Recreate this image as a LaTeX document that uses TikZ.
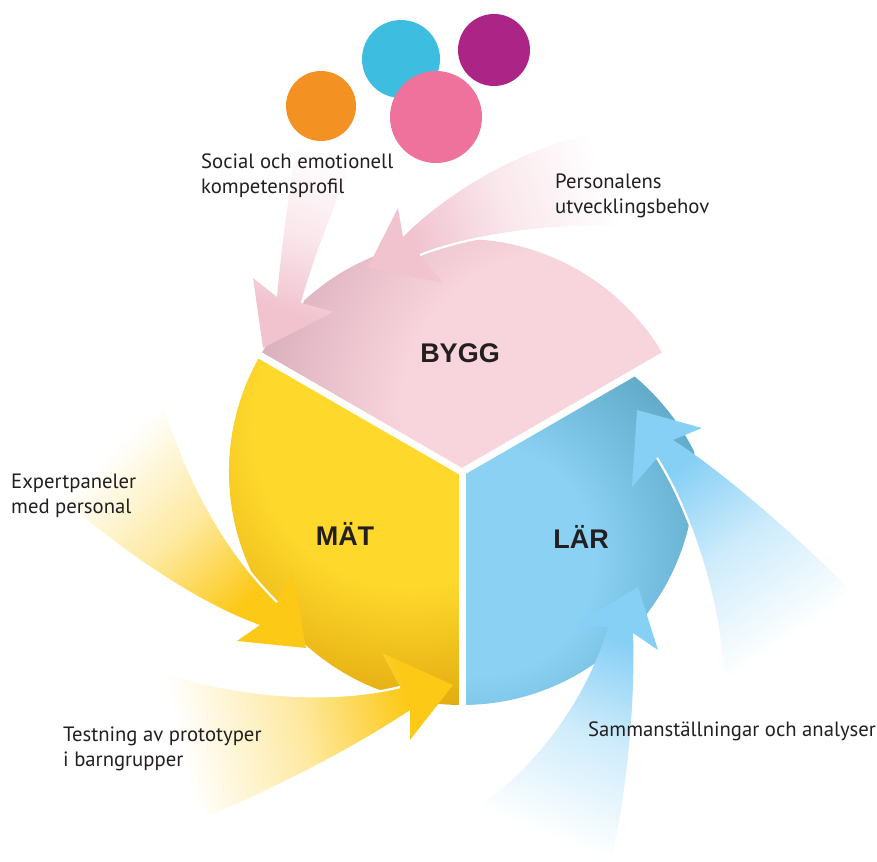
\documentclass[tikz,border=0pt]{standalone}
\usepackage{fontspec}
\setmainfont{PT Sans}
\newfontfamily\arialfont{Liberation Sans}
\definecolor{pinkL}{HTML}{F8D4DC}
\definecolor{pinkD}{HTML}{D6A9B8}
\definecolor{yelL}{HTML}{FED92C}
\definecolor{yelD}{HTML}{DFA40C}
\definecolor{bluL}{HTML}{8AD1F4}
\definecolor{bluD}{HTML}{62ABCA}
\definecolor{pinkH}{HTML}{F1C3CF}
\definecolor{yelH}{HTML}{FCC916}
\definecolor{bluH}{HTML}{86CFF5}
\colorlet{pinkM}{pinkH!40!white}
\colorlet{yelM}{yelH!40!white}
\colorlet{bluM}{bluH!40!white}
\definecolor{corange}{HTML}{F39222}
\definecolor{ccyan}{HTML}{3DBDE0}
\definecolor{cpurple}{HTML}{AC2586}
\definecolor{cpink}{HTML}{EE729C}
\definecolor{txt}{HTML}{231F20}
\pgfdeclareradialshading{pinkrad}{\pgfpoint{0bp}{0bp}}{color(0bp)=(pinkL); color(12bp)=(pinkL); color(25bp)=(pinkD); color(50bp)=(pinkD)}
\pgfdeclareradialshading{yelrad}{\pgfpoint{0bp}{0bp}}{color(0bp)=(yelL); color(13bp)=(yelL); color(25bp)=(yelD); color(50bp)=(yelD)}
\pgfdeclareradialshading{blurad}{\pgfpoint{0bp}{0bp}}{color(0bp)=(bluL); color(12bp)=(bluL); color(25bp)=(bluD); color(50bp)=(bluD)}
\pgfdeclareverticalshading{pinkfade}{100bp}{color(0bp)=(pinkH); color(30bp)=(pinkH); color(50bp)=(pinkM); color(72bp)=(white); color(100bp)=(white)}
\pgfdeclareverticalshading{yelfade}{100bp}{color(0bp)=(yelH); color(30bp)=(yelH); color(50bp)=(yelM); color(72bp)=(white); color(100bp)=(white)}
\pgfdeclareverticalshading{blufade}{100bp}{color(0bp)=(bluH); color(30bp)=(bluH); color(50bp)=(bluM); color(72bp)=(white); color(100bp)=(white)}
\newcommand\lblines[2]{\vtop{\baselineskip=25pt\lineskiplimit=-20pt\hbox{#1}\hbox{#2}}}
\begin{document}
\begin{tikzpicture}[x=1pt,y=-1pt,
  lab/.style={font=\arialfont\bfseries\fontsize{27}{31}\selectfont, text=txt, inner sep=0pt, anchor=base},
  note/.style={font=\fontsize{20.7}{25}\selectfont, text=txt, inner sep=0pt, anchor=base west},
  gapline/.style={white, line width=2.2}]
\useasboundingbox (0,0) rectangle (877,861);
\coordinate (C) at (462,472);
% sectors
\begin{scope}
  \clip (C) -- ++(210:233) arc[start angle=210, end angle=330, radius=233] -- cycle;
  \shade[shading=pinkrad] (560,410) circle (330);
\end{scope}
\begin{scope}
  \clip (C) -- ++(210:233) arc[start angle=210, end angle=90, radius=233] -- cycle;
  \shade[shading=yelrad] (410,430) circle (300);
\end{scope}
\begin{scope}
  \clip (C) -- ++(90:233) arc[start angle=90, end angle=-30, radius=233] -- cycle;
  \shade[shading=blurad] (480,560) circle (240);
\end{scope}
\draw[white, line width=7] (C) -- ++(210:240);
\draw[white, line width=7] (C) -- ++(330:240);
\draw[white, line width=7] (C) -- ++(90:240);
% arrow: Social (pink)
\coordinate (sTL) at (297,138); \coordinate (sTR) at (367,128);
\coordinate (sNL) at (277,297); \coordinate (sNR) at (302,303);
\coordinate (sBL) at (253,278); \coordinate (sBR) at (333,312);
\coordinate (sTip) at (263,348);
\shade[shading=pinkfade, shading angle=-17.9] (sTR) .. controls (345,185) and (318,245) .. (sNR) -- (sBR) -- (sTip) -- (sBL) -- (sNL) .. controls (282,240) and (290,190) .. (sTL) -- cycle;
\draw[gapline] (sNR) .. controls (318,245) and (345,185) .. (sTR);
% arrow: Personalens (pink)
\coordinate (pTU) at (593,133); \coordinate (pTL) at (640,228);
\coordinate (pN1) at (403,237); \coordinate (pN2) at (420,255);
\coordinate (pB1) at (398,208); \coordinate (pB2) at (443,283);
\coordinate (pTip) at (368,267);
\shade[shading=pinkfade, shading angle=-70.6] (pTU) .. controls (520,150) and (450,190) .. (pN1) -- (pB1) -- (pTip) -- (pB2) -- (pN2) .. controls (470,235) and (560,222) .. (pTL) .. controls (640,180) .. (pTU) -- cycle;
\draw[gapline] (pN2) .. controls (470,235) and (560,222) .. (pTL);
% arrow: Expertpaneler (yellow)
\coordinate (eT1) at (163,400); \coordinate (eT2) at (70,505);
\coordinate (eNI) at (277,602); \coordinate (eNO) at (260,625);
\coordinate (eBU) at (293,572); \coordinate (eBL) at (237,641);
\coordinate (eTip) at (306,648);
\shade[shading=yelfade, shading angle=43.9] (eT1) .. controls (190,490) and (230,555) .. (eNI) -- (eBU) -- (eTip) -- (eBL) -- (eNO) .. controls (190,600) and (110,540) .. (eT2) .. controls (90,440) .. (eT1) -- cycle;
\draw[gapline] (eT1) .. controls (190,490) and (230,555) .. (eNI);
% arrow: Testning (yellow)
\coordinate (tT1) at (163,672); \coordinate (tT2) at (210,815);
\coordinate (tNU) at (400,687); \coordinate (tNL) at (410,710);
\coordinate (tBU) at (382,653); \coordinate (tBL) at (410,740);
\coordinate (tTip) at (453,685);
\shade[shading=yelfade, shading angle=102.4] (tT1) .. controls (250,700) and (340,702) .. (tNU) -- (tBU) -- (tTip) -- (tBL) -- (tNL) .. controls (350,750) and (270,790) .. (tT2) .. controls (150,750) .. (tT1) -- cycle;
\draw[gapline] (tT1) .. controls (250,700) and (340,702) .. (tNU);
% arrow: upper blue
\coordinate (uTL) at (723,677); \coordinate (uTR) at (847,587);
\coordinate (uNL) at (657,458); \coordinate (uNR) at (673,440);
\coordinate (uBL) at (632,487); \coordinate (uBR) at (702,428);
\coordinate (uTip) at (637,410);
\shade[shading=blufade, shading angle=-146.4] (uTR) .. controls (790,530) and (720,470) .. (uNR) -- (uBR) -- (uTip) -- (uBL) -- (uNL) .. controls (690,510) and (720,600) .. (uTL) .. controls (800,660) .. (uTR) -- cycle;
\draw[gapline] (uNL) .. controls (690,510) and (720,600) .. (uTL);
% arrow: lower blue
\coordinate (lTL) at (467,813); \coordinate (lTR) at (613,853);
\coordinate (lNL) at (608,627); \coordinate (lNR) at (633,633);
\coordinate (lBL) at (572,627); \coordinate (lBR) at (658,650);
\coordinate (lTip) at (638,587);
\shade[shading=blufade, shading angle=158.3] (lTR) .. controls (630,770) and (635,690) .. (lNR) -- (lBR) -- (lTip) -- (lBL) -- (lNL) .. controls (590,690) and (540,770) .. (lTL) .. controls (530,860) .. (lTR) -- cycle;
% coloured dots
\fill[corange] (321,106) circle (35);
\fill[ccyan] (401,59) circle (39);
\fill[cpurple] (494,50) circle (36);
\fill[cpink] (436,117) circle (46);
% labels
\node[lab] (bygg) at (460,362) {BYGG};
\node[lab] (mat) at (345,545) {MÄT};
\node[lab] (lar) at (581,548) {LÄR};
\node[note] (social) at (201,168) {\lblines{Social och emotionell}{kompetensprofil}};
\node[note] (pers) at (555,188) {\lblines{Personalens}{utvecklingsbehov}};
\node[note] (expert) at (11,488) {\lblines{Expertpaneler}{med personal}};
\node[note] (test) at (63,741) {\lblines{Testning av prototyper}{i barngrupper}};
\node[note] (samm) at (588,736) {Sammanställningar och analyser};
\end{tikzpicture}
\end{document}
